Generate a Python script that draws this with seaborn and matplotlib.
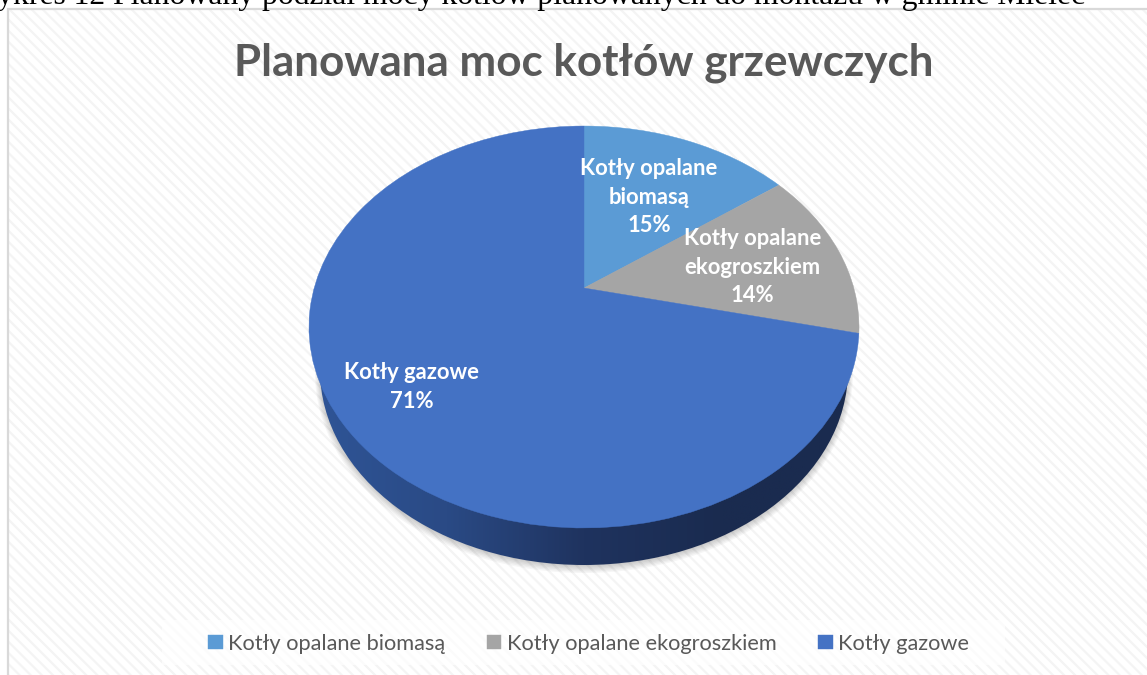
import numpy as np
import matplotlib
matplotlib.use('Agg')
import matplotlib.pyplot as plt
import seaborn as sns
from matplotlib.colors import LinearSegmentedColormap
from matplotlib.patches import Ellipse, Rectangle
from matplotlib.transforms import Transform

# Dane
kategorie = ['Kotły opalane biomasą', 'Kotły opalane ekogroszkiem', 'Kotły gazowe']
udzialy = [14.9, 13.7, 71.4]
etykiety = ['Kotły opalane\nbiomasą\n15%', 'Kotły opalane\nekogroszkiem\n14%', 'Kotły gazowe\n71%']
kolory = ['#5B9BD5', '#A5A5A5', '#4472C4']
tytul = 'Planowana moc kotłów grzewczych'
podpis = 'Wykres 12 Planowany podział mocy kotłów planowanych do montażu w gminie Mielec'

SZARY = '#595959'


# Rzut perspektywiczny kola jednostkowego na wspolrzedne w pikselach
class Perspektywa(Transform):
    input_dims = 2
    output_dims = 2

    def transform_non_affine(self, values):
        values = np.asarray(values)
        x, y = values[:, 0], values[:, 1]
        mian = 1 + 0.194 * y
        return np.column_stack([584 + 269.8 * x / mian, 288 - 193.4 * y / mian])


sns.set_theme(style='white')
plt.rcParams['font.family'] = ['Lato', 'DejaVu Sans']
plt.rcParams['hatch.linewidth'] = 1.6
plt.rcParams['hatch.color'] = '#f4f4f4'

fig = plt.figure(figsize=(11.47, 6.75), dpi=100)
ax = fig.add_axes([0, 0, 1, 1])

paleta = sns.color_palette(kolory)
wedges, _ = ax.pie(udzialy, colors=paleta, startangle=90, counterclock=False,
                   wedgeprops={'linewidth': 0.3, 'zorder': 5})
ax.set_aspect('auto')
ax.set_xlim(0, 1147)
ax.set_ylim(675, 0)
ax.axis('off')
for w, kol in zip(wedges, paleta):
    w.set_transform(Perspektywa() + ax.transData)
    w.set_edgecolor(kol)

# Tlo w ukosne paski i ramka
ax.add_patch(Rectangle((9, 10), 1140, 670, facecolor='white', edgecolor='#f4f4f4',
                       hatch='\\\\\\', linewidth=0, zorder=0))
ax.plot([8, 8, 1147], [675, 9, 9], color='#d9d9d9', lw=1.6, zorder=1, solid_joinstyle='miter')

# Cien pod kolem
for i in range(6):
    ax.add_patch(Ellipse((584, 371 + 0.4 * i), 2 * (264 + i), 2 * (195 + i), facecolor='black',
                         edgecolor='none', alpha=0.035, zorder=2))

# Bok kola z gradientem
gradient = LinearSegmentedColormap.from_list('bok', ['#2F5597', '#2A4A85', '#1F335F', '#1A2B4F', '#1A2B4F'])
obraz = ax.imshow(np.linspace(0, 1, 256)[None, :], cmap=gradient, aspect='auto',
                  extent=(309, 859, 566, 370), zorder=3)
bok = Ellipse((584, 370), 2 * 264, 2 * 195, transform=ax.transData, facecolor='none', edgecolor='none')
ax.add_patch(bok)
obraz.set_clip_path(bok)
ax.set_xlim(0, 1147)
ax.set_ylim(675, 0)

# Tytul, podpis, etykiety
ax.text(583.5, 63, tytul, ha='center', va='center', fontsize=31.7, fontweight='bold', color=SZARY, zorder=6)
ax.text(1085, 4, podpis, ha='right', va='baseline', fontsize=22.8, color='black',
        family=['Liberation Serif'], zorder=6)
pozycje = [(649, 197), (752.5, 267), (412, 387)]
for (px, py), tekst in zip(pozycje, etykiety):
    ax.text(px, py, tekst, ha='center', va='center', fontsize=15.8, fontweight='bold',
            color='white', linespacing=1.47, zorder=7)

# Legenda na jasnym pasie
ax.add_patch(Rectangle((162, 620), 843, 45, facecolor='white', edgecolor='none', alpha=0.65, zorder=1))
leg = ax.legend(wedges, kategorie, loc='center', bbox_to_anchor=(588.5 / 1147, 1 - 643.5 / 675),
                ncol=3, fontsize=15.7, labelcolor=SZARY, frameon=False,
                handlelength=0.68, handleheight=0.65, handletextpad=0.25, columnspacing=1.9,
                borderpad=0, borderaxespad=0)
leg.set_zorder(6)

plt.savefig('out.png', dpi=100)
